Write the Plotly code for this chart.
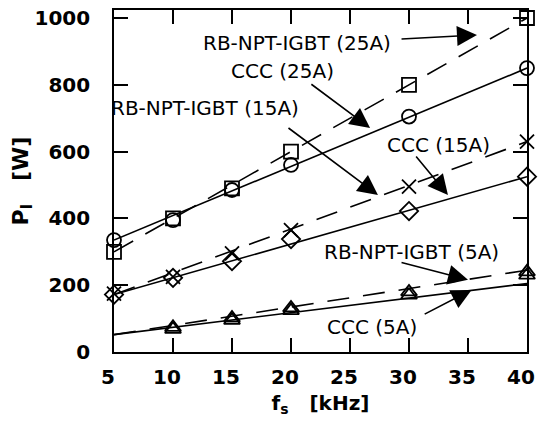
import plotly.graph_objects as go

# ---- data ----
freq = [5, 10, 15, 20, 30, 40]
freq_5a = [10, 15, 20, 30, 40]
rb25 = [300, 400, 490, 600, 800, 1000]
ccc25 = [335, 395, 485, 560, 705, 850]
rb15 = [175, 225, 295, 365, 495, 630]
ccc15 = [172, 222, 272, 338, 422, 525]
rb5 = [74, 102, 132, 180, 240]
ccc5 = [68, 95, 124, 170, 230]

fit_x = [5, 40]
rb25_fit = [300, 1000]
ccc25_fit = [335, 850]
rb15_fit = [172, 630]
ccc15_fit = [172, 525]
rb5_fit = [52, 245]
ccc5_fit = [52, 205]

x_ticks = [5, 10, 15, 20, 25, 30, 35, 40]
y_ticks = [0, 200, 400, 600, 800, 1000]

FONT = "DejaVu Sans"
fig = go.Figure()

DASH = "22px,14px"
for yv, dash in [(rb25_fit, DASH), (ccc25_fit, "solid"), (rb15_fit, DASH),
                 (ccc15_fit, "solid"), (rb5_fit, DASH), (ccc5_fit, "solid")]:
    fig.add_trace(go.Scatter(x=fit_x, y=yv, mode="lines",
                             line=dict(color="black", width=1.6, dash=dash),
                             showlegend=False, hoverinfo="skip"))

for xs, ys, sym in [(freq, rb25, "square-open"), (freq, ccc25, "circle-open"),
                    (freq, rb15, "x-thin-open"), (freq, ccc15, "diamond-open"),
                    (freq_5a, rb5, "triangle-up-open"), (freq_5a, ccc5, "triangle-up-open")]:
    fig.add_trace(go.Scatter(x=xs, y=ys, mode="markers",
                             marker=dict(symbol=sym, size=14, color="black",
                                         line=dict(color="black", width=1.8)),
                             showlegend=False, cliponaxis=False))

labels = [
    ("RB-NPT-IGBT (25A)", 20.5, 925, 29.24, 937, 35.76, 949),
    ("CCC (25A)", 19.3, 841, 21.6, 805, 26.7, 671),
    ("RB-NPT-IGBT (15A)", 12.7, 731, 19.66, 674, 27.37, 470),
    ("CCC (15A)", 32.5, 620, 30.5, 590, 33.3, 470),
    ("RB-NPT-IGBT (5A)", 30.2, 299, 29.24, 269, 35.0, 216),
    ("CCC (5A)", 26.9, 75, 31.2, 111, 35.3, 186),
]
for text, tx, ty, axx, ayy, hx, hy in labels:
    fig.add_annotation(x=tx, y=ty, text=text, showarrow=False,
                       font=dict(family=FONT, size=20, color="black"),
                       xanchor="center", yanchor="middle")
    fig.add_annotation(x=hx, y=hy, ax=axx, ay=ayy, axref="x", ayref="y",
                       text="", showarrow=True, arrowhead=2, arrowsize=2.5,
                       arrowwidth=1.6, arrowcolor="black", standoff=0)

fig.update_layout(
    width=538, height=425,
    margin=dict(l=114, r=11, t=10, b=73, autoexpand=False),
    paper_bgcolor="white", plot_bgcolor="white",
    font=dict(family=FONT, color="black"),
)
fig.update_xaxes(range=[5, 40], tickvals=x_ticks, ticks="inside", ticklen=14,
                 tickwidth=1.5, tickcolor="black", showline=True, linewidth=1.6,
                 linecolor="black", mirror="ticks", showgrid=False, zeroline=False,
                 ticklabelstandoff=6, ticklabelshift=-6, ticklabeloverflow="allow",
                 automargin=False,
                 tickfont=dict(family=FONT, size=20, weight="bold"),
                 title=dict(text="f<sub>s</sub>   [kHz]", standoff=8,
                            font=dict(family=FONT, size=20, weight="bold")))
fig.update_yaxes(range=[0, 1024], tickvals=y_ticks, ticks="inside", ticklen=14,
                 tickwidth=1.5, tickcolor="black", showline=True, linewidth=1.6,
                 linecolor="black", mirror="ticks", showgrid=False, zeroline=False,
                 ticklabelstandoff=18, ticklabeloverflow="allow", automargin=False,
                 tickfont=dict(family=FONT, size=20, weight="bold"),
                 title=dict(text="P<sub>l</sub>   [W]", standoff=0,
                            font=dict(family=FONT, size=22, weight="bold")))

fig.write_html("out.html", config={"displayModeBar": False},
               post_script="document.body.style.margin='0';document.body.style.padding='0';")
